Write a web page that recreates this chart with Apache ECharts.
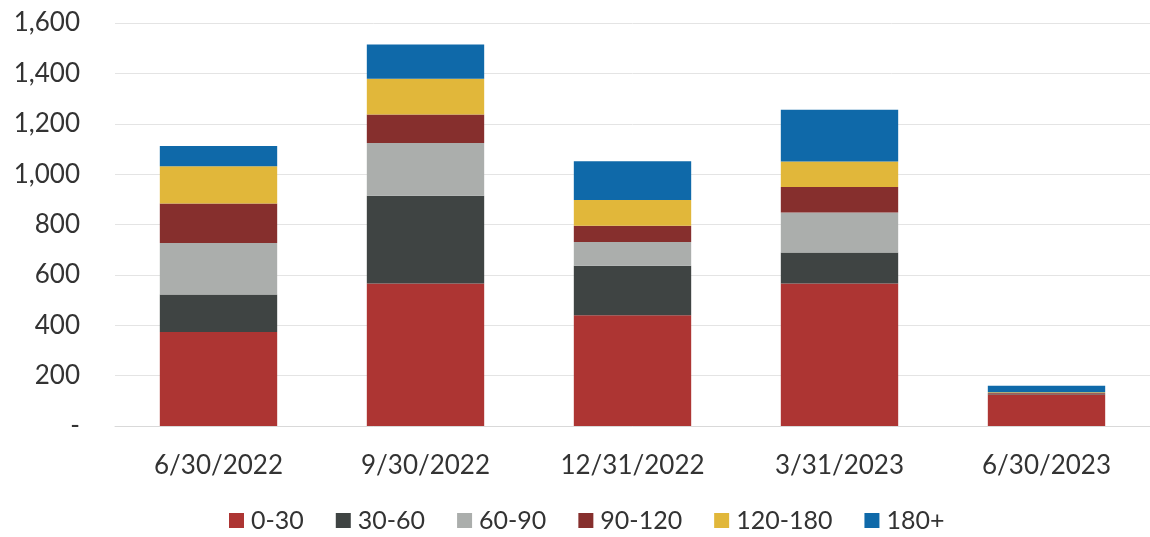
<!DOCTYPE html>
<html><head><meta charset="utf-8">
<script src="https://cdn.jsdelivr.net/npm/echarts@6/dist/echarts.min.js"></script>
<style>html,body{margin:0;padding:0;background:#fff}#c{width:1150px;height:537px}</style>
</head><body><div id="c"></div>
<script>
const categories = ['6/30/2022','9/30/2022','12/31/2022','3/31/2023','6/30/2023'];
const s0_30 = [373, 566, 440, 566, 125];
const s30_60 = [149, 348, 196, 123, 2];
const s60_90 = [205, 210, 95, 159, 1];
const s90_120 = [156, 113, 64, 101, 3];
const s120_180 = [148, 142, 102, 101, 3];
const s180p = [81, 136, 154, 206, 26];
const seriesNames = ['0-30','30-60','60-90','90-120','120-180','180+'];
const seriesData = [s0_30, s30_60, s60_90, s90_120, s120_180, s180p];
const colors = ['#AD3533','#3F4443','#ABAEAC','#862F2D','#E1B73A','#0F69A9'];
const FONT = 'Lato';
const chart = echarts.init(document.getElementById('c'));
chart.setOption({
  animation: false,
  color: colors,
  textStyle: {fontFamily: FONT},
  grid: {left: 115, width: 1040, top: 23, bottom: 111},
  legend: {
    top: 503, left: 224, itemWidth: 15, itemHeight: 15, itemGap: 32,
    icon: 'rect',
    textStyle: {fontSize: 25, color: '#333', fontFamily: FONT, padding: [0,0,0,2]},
    data: seriesNames
  },
  xAxis: {
    type: 'category', data: categories,
    axisLine: {lineStyle: {color: '#d9d9d9'}}, axisTick: {show: false},
    axisLabel: {fontSize: 26, color: '#333', margin: 27, fontFamily: FONT}
  },
  yAxis: {
    type: 'value', min: 0, max: 1600, interval: 200,
    axisLine: {show: false}, axisTick: {show: false},
    splitLine: {lineStyle: {color: '#e4e4e4'}},
    axisLabel: {fontSize: 26, color: '#333', margin: 35, fontFamily: FONT,
      formatter: v => v === 0 ? '-' : v.toLocaleString('en-US')}
  },
  series: seriesNames.map((n, i) => ({
    name: n, type: 'bar', stack: 'a', barWidth: '56.7%', data: seriesData[i]
  }))
});
</script></body></html>
